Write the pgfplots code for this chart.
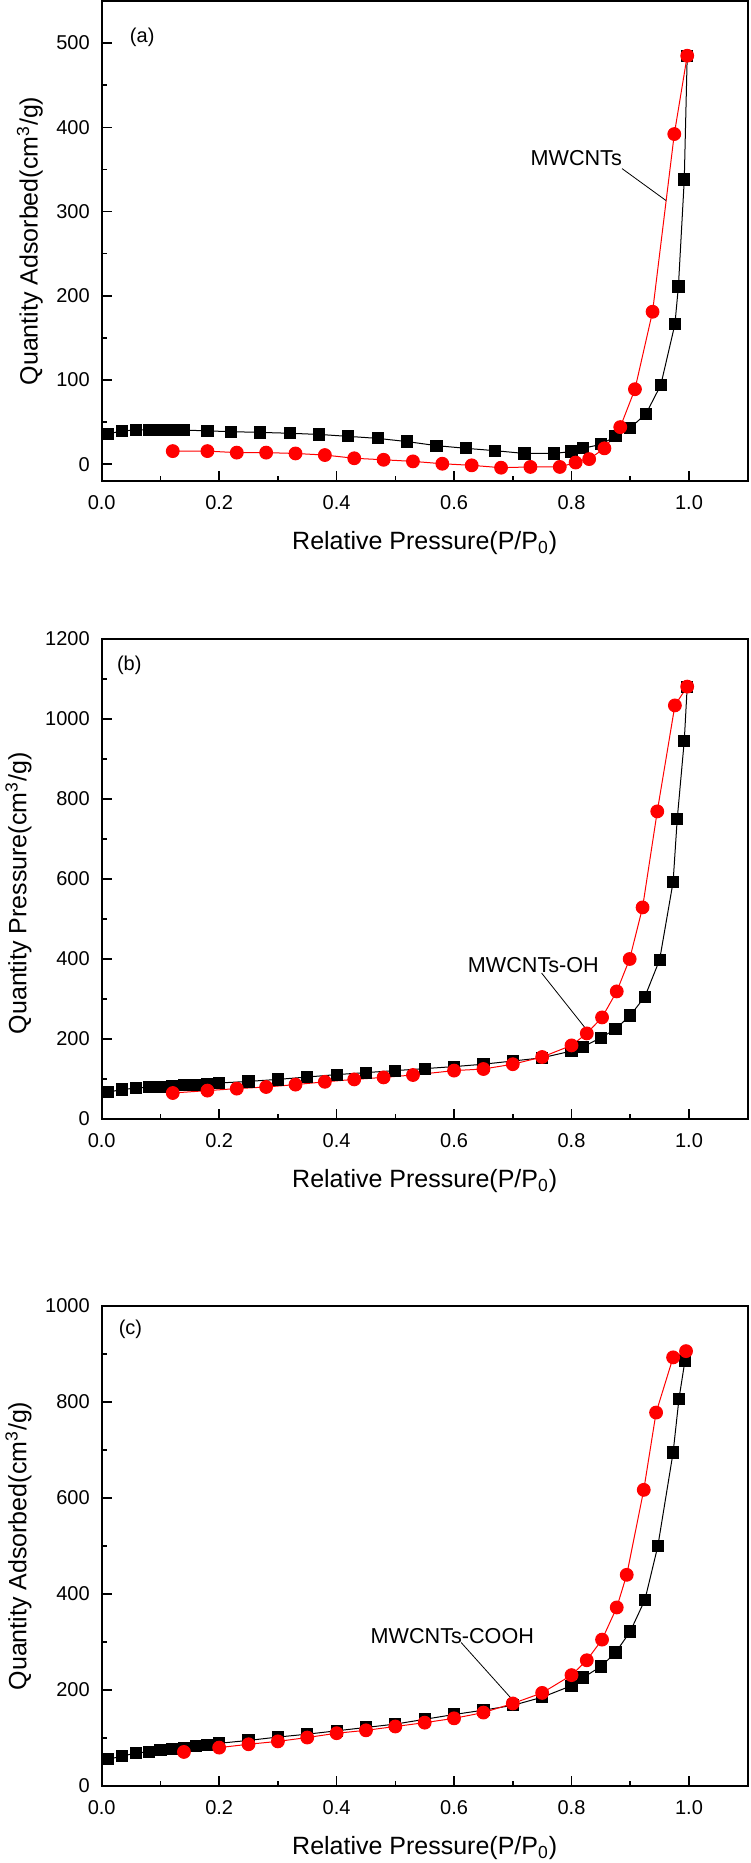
\documentclass[border=0pt]{standalone}
\usepackage{fontspec}
\setmainfont{Liberation Sans}
\usepackage{pgfplots}
\pgfplotsset{compat=1.18}
\definecolor{myred}{RGB}{255,0,0}

\tikzset{annot/.style={font=\fontsize{10.8}{13}\selectfont}}

\pgfplotsset{
  /pgf/number format/assume math mode=true,
  /pgf/number format/1000 sep={},
  myaxis/.style={
    scale only axis, width=323pt, height=240pt,
    xmin=0, xmax=1.1,
    xtick={0,0.2,0.4,0.6,0.8,1.0},
    minor xtick={0.1,0.3,0.5,0.7,0.9},
    xticklabel={\pgfmathprintnumber[fixed,fixed zerofill,precision=1]{\tick}},
    tick align=inside,
    xtick pos=lower, ytick pos=left,
    axis line style={line width=1pt},
    major tick style={line width=0.8pt, black},
    minor tick style={line width=0.8pt, black},
    major tick length=5pt, minor tick length=2.7pt,
    tick label style={font=\fontsize{10}{12}\selectfont, black},
    xticklabel style={yshift=-3.5pt},
    yticklabel style={xshift=-2.5pt},
    label style={font=\fontsize{12.5}{14}\selectfont},
    xlabel={Relative Pressure(P/P\textsubscript{0})},
    xlabel style={at={(axis description cs:0.5,0)}, anchor=base, yshift=-34.3pt},
    clip=false,
  },
  blk/.style={black, line width=0.5pt, mark=square*, mark size=2.8pt, mark options={solid, fill=black, draw=black}},
  rd/.style={myred, line width=0.5pt, mark=*, mark size=3.2pt, mark options={solid, fill=myred, draw=myred}},
}

\begin{document}
\begin{tikzpicture}
\useasboundingbox (-50.85pt,-691pt) rectangle (324.15pt,240.5pt);

% ---------------- (a) ----------------
\begin{axis}[myaxis, at={(0pt,0pt)}, anchor=south west,
  ymin=-20, ymax=550,
  ytick={0,100,200,300,400,500},
  minor ytick={50,150,250,350,450},
  ylabel={Quantity Adsorbed(cm\textsuperscript{3}/g)},
  ylabel style={at={(axis description cs:-0.099,0.5)}, anchor=base},
]
\addplot[blk] table {
0.011 36
0.035 39.5
0.058 40.5
0.080 41
0.100 41
0.120 41
0.140 40.5
0.180 39.5
0.220 38.6
0.270 37.7
0.320 36.7
0.370 35.3
0.420 33
0.470 30.6
0.520 26.8
0.570 22
0.620 18.8
0.670 16
0.720 12.7
0.770 12.7
0.800 15
0.820 18.8
0.850 23.5
0.875 33
0.900 43
0.927 60
0.952 94
0.976 166
0.982 211
0.992 338
0.997 485
};
\addplot[rd] table {
0.121 15.5
0.180 15.5
0.230 13.7
0.280 13.7
0.330 12.7
0.380 10.8
0.430 7
0.480 5.2
0.530 3.3
0.580 0.5
0.630 -1.4
0.680 -4.2
0.730 -3.3
0.780 -3.3
0.807 1.9
0.830 6
0.856 18.8
0.883 44
0.908 89
0.938 181
0.975 392
0.997 485
};
\node[font=\fontsize{10}{12}\selectfont] at (axis cs:0.069,507) {(a)};
\node[annot] at (axis cs:0.808,363) {MWCNTs};
\draw[black, line width=0.4pt] (axis cs:0.886,351) -- (axis cs:0.961,313);
\end{axis}

% ---------------- (b) ----------------
\begin{axis}[myaxis, at={(0pt,-319pt)}, anchor=south west,
  ymin=0, ymax=1200,
  ytick={0,200,400,600,800,1000,1200},
  minor ytick={100,300,500,700,900,1100},
  ylabel={Quantity Pressure(cm\textsuperscript{3}/g)},
  ylabel style={at={(axis description cs:-0.1165,0.47)}, anchor=base},
]
\addplot[blk] table {
0.011 67
0.035 74
0.058 77
0.080 80
0.100 81
0.120 83
0.140 85
0.160 86
0.180 88
0.200 90
0.250 94
0.300 99
0.350 105
0.400 111
0.450 116
0.500 121
0.550 126
0.600 131
0.650 137
0.700 145
0.750 153
0.800 170
0.820 181
0.850 203
0.875 225
0.900 259
0.925 306
0.950 398
0.973 593
0.980 750
0.992 946
0.997 1081
};
\addplot[rd] table {
0.121 65
0.180 71
0.230 76
0.280 80
0.330 86
0.380 93
0.430 99
0.480 104
0.530 110
0.600 121
0.650 125
0.700 137
0.750 155
0.800 184
0.826 214
0.852 254
0.877 319
0.899 400
0.921 529
0.946 769
0.976 1034
0.997 1081
};
\node[font=\fontsize{10}{12}\selectfont] at (axis cs:0.047,1133) {(b)};
\node[annot] at (axis cs:0.735,385) {MWCNTs-OH};
\draw[black, line width=0.4pt] (axis cs:0.749,365) -- (axis cs:0.822,230);
\end{axis}

% ---------------- (c) ----------------
\begin{axis}[myaxis, at={(0pt,-652.5pt)}, anchor=south west,
  ymin=0, ymax=1000,
  ytick={0,200,400,600,800,1000},
  minor ytick={100,300,500,700,900},
  ylabel={Quantity Adsorbed(cm\textsuperscript{3}/g)},
  ylabel style={at={(axis description cs:-0.1165,0.5)}, anchor=base},
]
\addplot[blk] table {
0.011 56
0.035 62
0.058 69
0.080 71
0.100 75
0.120 77
0.140 80
0.160 84
0.180 86
0.200 89
0.250 95
0.300 102
0.350 108
0.400 115
0.450 122
0.500 129
0.550 139
0.600 149
0.650 158
0.700 168
0.750 185
0.800 209
0.820 226
0.850 249
0.875 278
0.900 322
0.925 388
0.947 500
0.973 695
0.983 807
0.993 885
};
\addplot[rd] table {
0.140 71
0.200 80
0.250 87
0.300 93
0.350 101
0.400 110
0.450 116
0.500 124
0.550 132
0.600 141
0.650 153
0.700 172
0.750 194
0.800 231
0.826 262
0.852 305
0.877 372
0.894 440
0.923 617
0.944 778
0.973 893
0.995 906
};
\node[font=\fontsize{10}{12}\selectfont] at (axis cs:0.049,952) {(c)};
\node[annot] at (axis cs:0.597,313) {MWCNTs-COOH};
\draw[black, line width=0.4pt] (axis cs:0.612,299) -- (axis cs:0.697,183);
\end{axis}
\end{tikzpicture}
\end{document}
